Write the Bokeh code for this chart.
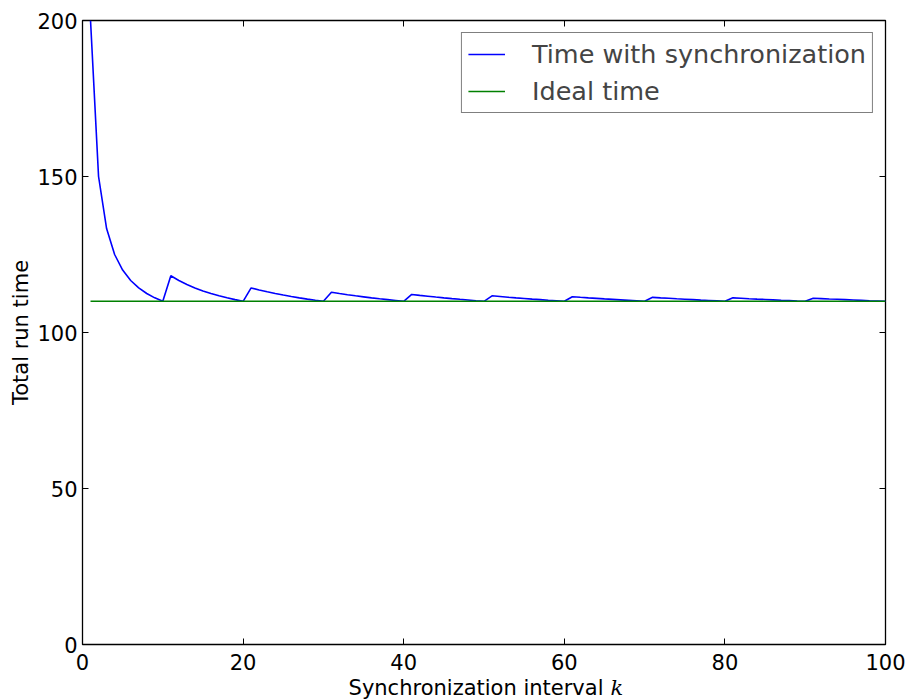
from bokeh.plotting import figure
from bokeh.models import Range1d, LinearAxis, FixedTicker, Legend, LegendItem, Label
from bokeh.embed import file_html
from bokeh.resources import INLINE

# ---- data ----
k_values = list(range(1, 101))
sync_time = [
    200.0, 150.0, 133.33, 125.0, 120.0, 116.67, 114.29, 112.5, 111.11, 110.0,
    118.18, 116.67, 115.38, 114.29, 113.33, 112.5, 111.76, 111.11, 110.53, 110.0,
    114.29, 113.64, 113.04, 112.5, 112.0, 111.54, 111.11, 110.71, 110.34, 110.0,
    112.90, 112.5, 112.12, 111.76, 111.43, 111.11, 110.81, 110.53, 110.26, 110.0,
    112.20, 111.90, 111.63, 111.36, 111.11, 110.87, 110.64, 110.42, 110.20, 110.0,
    111.76, 111.54, 111.32, 111.11, 110.91, 110.71, 110.53, 110.34, 110.17, 110.0,
    111.48, 111.29, 111.11, 110.94, 110.77, 110.61, 110.45, 110.29, 110.14, 110.0,
    111.27, 111.11, 110.96, 110.81, 110.67, 110.53, 110.39, 110.26, 110.13, 110.0,
    111.11, 110.98, 110.84, 110.71, 110.59, 110.47, 110.34, 110.23, 110.11, 110.0,
    110.99, 110.87, 110.75, 110.64, 110.53, 110.42, 110.31, 110.20, 110.10, 110.0,
]
ideal_k = [1, 100]
ideal_time = [110, 110]
x_ticks = [0, 20, 40, 60, 80, 100]
y_ticks = [0, 50, 100, 150, 200]
series_labels = ["Time with synchronization", "Ideal time"]
x_label_main = "Synchronization interval"
x_label_var = "k"
y_label = "Total run time"

FONT = "DejaVu Sans"

p = figure(width=905, height=699, output_backend="svg", toolbar_location=None,
           x_range=Range1d(0, 100), y_range=Range1d(0, 200),
           min_border_left=82, min_border_right=20, min_border_top=20, min_border_bottom=55)
p.background_fill_color = "white"
p.border_fill_color = "white"
p.outline_line_color = "black"
p.outline_line_width = 1.3
p.xgrid.visible = False
p.ygrid.visible = False

for ax, ticks in ((p.xaxis[0], x_ticks), (p.yaxis[0], y_ticks)):
    ax.ticker = FixedTicker(ticks=ticks)
    ax.major_tick_in = 6
    ax.major_tick_out = 0
    ax.minor_tick_line_color = None
    ax.axis_line_color = None
    ax.major_tick_line_color = "black"
    ax.major_label_text_font = FONT
    ax.major_label_text_font_size = "21px"
    ax.major_label_text_color = "black"

p.xaxis.major_label_standoff = 9
p.yaxis.major_label_standoff = 5
p.yaxis.axis_label = y_label
p.yaxis.axis_label_text_font = FONT
p.yaxis.axis_label_text_font_size = "21px"
p.yaxis.axis_label_text_font_style = "normal"
p.yaxis.axis_label_standoff = 1
p.yaxis.axis_label_text_color = "black"

top = LinearAxis(ticker=FixedTicker(ticks=x_ticks), major_tick_in=6, major_tick_out=0,
                 minor_tick_line_color=None, axis_line_color=None,
                 major_label_text_color=None, major_label_text_font_size="1px",
                 major_label_standoff=0)
right = LinearAxis(ticker=FixedTicker(ticks=y_ticks), major_tick_in=6, major_tick_out=0,
                   minor_tick_line_color=None, axis_line_color=None,
                   major_label_text_color=None, major_label_text_font_size="1px",
                   major_label_standoff=0)
p.add_layout(top, "above")
p.add_layout(right, "right")

r1 = p.line(k_values, sync_time, line_color="#0000ff", line_width=1.6)
r2 = p.line(ideal_k, ideal_time, line_color="#008000", line_width=1.6)

legend = Legend(items=[LegendItem(label=series_labels[0], renderers=[r1]),
                       LegendItem(label=series_labels[1], renderers=[r2])],
                location="top_right", margin=12, padding=6, spacing=7,
                glyph_width=37, glyph_height=24, label_height=24, label_standoff=27,
                label_text_font=FONT, label_text_font_size="25.5px",
                border_line_color="black", border_line_width=1.2,
                background_fill_color="white", background_fill_alpha=1.0)
p.add_layout(legend)

# x-axis label: main text + italic variable (placed in side panels so they are not clipped)
lab1 = Label(x=50, y=0, x_units="data", y_units="data", x_offset=119.5, y_offset=-43,
             text=x_label_main, text_font=FONT, text_font_size="21px", text_align="right",
             text_baseline="alphabetic", text_color="black")
lab2 = Label(x=50, y=0, x_units="data", y_units="data", x_offset=126.5, y_offset=-43,
             text=x_label_var, text_font="DejaVu Serif", text_font_size="21px",
             text_font_style="italic", text_align="left", text_baseline="alphabetic",
             text_color="black")
p.add_layout(lab1, "below")
p.add_layout(lab2, "right")

open("out.html", "w").write(file_html(p, INLINE))
